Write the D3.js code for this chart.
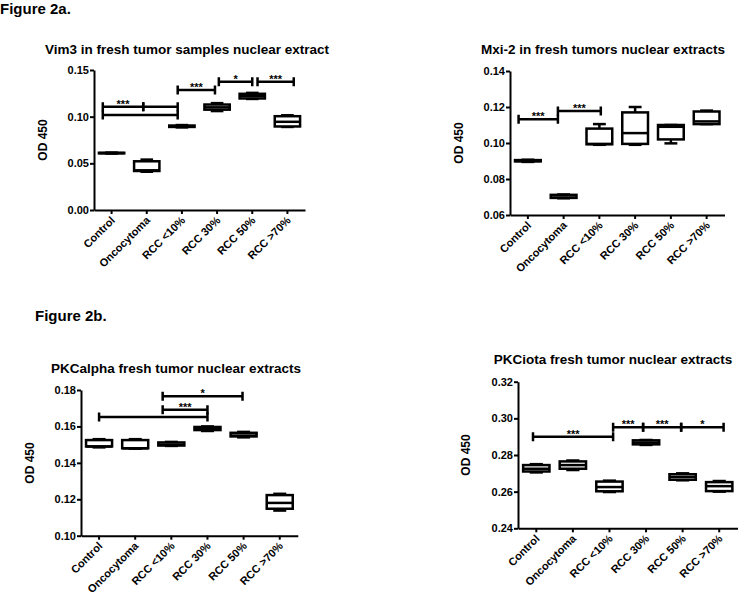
<!DOCTYPE html>
<html><head><meta charset="utf-8">
<script src="https://cdn.jsdelivr.net/npm/d3@7"></script>
<style>
body{margin:0;background:#fff}
svg{display:block}
text{font-family:"Liberation Sans",Arial,Helvetica,sans-serif;font-weight:bold;fill:#000}
</style>
</head><body>
<svg width="739" height="596"></svg>
<script>
// ---------- DATA ----------
const categories = ["Control", "Oncocytoma", "RCC <10%", "RCC 30%", "RCC 50%", "RCC >70%"];

// box stats per category: [min, q1, median, q3, max]
const vim3Boxes = [
  [0.0605, 0.0607, 0.0610, 0.0613, 0.0615],
  [0.0410, 0.0418, 0.0425, 0.0522, 0.0540],
  [0.0885, 0.0890, 0.0895, 0.0905, 0.0910],
  [0.1060, 0.1075, 0.1100, 0.1130, 0.1145],
  [0.1190, 0.1195, 0.1220, 0.1245, 0.1255],
  [0.0890, 0.0895, 0.0945, 0.1005, 0.1015]
];
const mxi2Boxes = [
  [0.0895, 0.0898, 0.0900, 0.0905, 0.0907],
  [0.0693, 0.0695, 0.0697, 0.0712, 0.0714],
  [0.0990, 0.0993, 0.0995, 0.1080, 0.1105],
  [0.0990, 0.0995, 0.1055, 0.1170, 0.1200],
  [0.0998, 0.1020, 0.1090, 0.1100, 0.1100],
  [0.1105, 0.1105, 0.1120, 0.1175, 0.1180]
];
const pkcAlphaBoxes = [
  [0.1485, 0.1490, 0.1490, 0.1525, 0.1530],
  [0.1478, 0.1480, 0.1480, 0.1525, 0.1530],
  [0.1493, 0.1495, 0.1500, 0.1512, 0.1515],
  [0.1575, 0.1580, 0.1585, 0.1597, 0.1600],
  [0.1540, 0.1545, 0.1550, 0.1565, 0.1570],
  [0.1138, 0.1148, 0.1180, 0.1223, 0.1230]
];
const pkcIotaBoxes = [
  [0.2705, 0.2710, 0.2725, 0.2745, 0.2750],
  [0.2718, 0.2725, 0.2745, 0.2765, 0.2770],
  [0.2598, 0.2602, 0.2625, 0.2655, 0.2660],
  [0.2855, 0.2858, 0.2868, 0.2880, 0.2882],
  [0.2662, 0.2665, 0.2680, 0.2695, 0.2700],
  [0.2600, 0.2603, 0.2630, 0.2652, 0.2658]
];

// significance brackets: [from (category position), to (category position), y value, label]
const vim3Brackets = [
  [-0.25, 1.88, 0.1018, ""],
  [-0.25, 0.90, 0.1107, "***"],
  [0.90, 1.88, 0.1107, ""],
  [1.88, 2.94, 0.1286, "***"],
  [3.05, 4.00, 0.1375, "*"],
  [4.15, 5.18, 0.1375, "***"]
];
const mxi2Brackets = [
  [-0.26, 0.84, 0.1132, "***"],
  [0.84, 2.04, 0.1178, "***"]
];
const pkcAlphaBrackets = [
  [0.00, 3.00, 0.1652, ""],
  [1.76, 3.00, 0.1692, "***"],
  [1.76, 3.97, 0.1765, "*"]
];
const pkcIotaBrackets = [
  [-0.09, 2.10, 0.2900, "***"],
  [2.10, 2.92, 0.2951, "***"],
  [2.92, 3.96, 0.2951, "***"],
  [3.96, 5.12, 0.2951, "*"]
];

const vim3Ticks = [0.00, 0.05, 0.10, 0.15];
const mxi2Ticks = [0.06, 0.08, 0.10, 0.12, 0.14];
const pkcAlphaTicks = [0.10, 0.12, 0.14, 0.16, 0.18];
const pkcIotaTicks = [0.24, 0.26, 0.28, 0.30, 0.32];

const titles = [
  "Vim3 in fresh tumor samples nuclear extract",
  "Mxi-2 in fresh tumors nuclear extracts",
  "PKCalpha fresh tumor nuclear extracts",
  "PKCiota fresh tumor nuclear extracts"
];
const figureLabels = ["Figure 2a.", "Figure 2b."];
const yLabel = "OD 450";

// ---------- LAYOUT ----------
const panels = [
  {title: titles[0], boxes: vim3Boxes, brackets: vim3Brackets, ticks: vim3Ticks,
   left: 94, right: 305, top: 70, bottom: 210, tx: 187, ty: 54, lx: 43, ly: 140},
  {title: titles[1], boxes: mxi2Boxes, brackets: mxi2Brackets, ticks: mxi2Ticks,
   left: 510, right: 724.5, top: 71, bottom: 215, tx: 603, ty: 54, lx: 459, ly: 143},
  {title: titles[2], boxes: pkcAlphaBoxes, brackets: pkcAlphaBrackets, ticks: pkcAlphaTicks,
   left: 81, right: 297.8, top: 390, bottom: 535.7, tx: 176, ty: 373, lx: 30, ly: 463},
  {title: titles[3], boxes: pkcIotaBoxes, brackets: pkcIotaBrackets, ticks: pkcIotaTicks,
   left: 518, right: 737.5, top: 381.7, bottom: 528.3, tx: 613, ty: 364, lx: 466, ly: 455}
];

const svg = d3.select("svg");

svg.append("text").attr("x", 0).attr("y", 14).style("font-size", "15px").text(figureLabels[0]);
svg.append("text").attr("x", 35).attr("y", 321).style("font-size", "15px").text(figureLabels[1]);

panels.forEach(p => {
  const g = svg.append("g");
  const x = d3.scaleBand().domain(categories).range([p.left, p.right]).padding(0);
  const bw = x.bandwidth();
  const cx = c => x(c) + bw / 2;
  const xi = d3.scaleLinear().domain([0, 1]).range([cx(categories[0]), cx(categories[1])]);
  const y = d3.scaleLinear().domain([p.ticks[0], p.ticks[p.ticks.length - 1]]).range([p.bottom, p.top]);

  // title
  g.append("text").attr("x", p.tx).attr("y", p.ty).attr("text-anchor", "middle")
    .style("font-size", "13.5px").text(p.title);

  // y label
  g.append("text").attr("transform", `translate(${p.lx},${p.ly}) rotate(-90)`)
    .attr("text-anchor", "middle").attr("dominant-baseline", "central")
    .style("font-size", "12px").text(yLabel);

  // y axis
  const ya = g.append("g").attr("transform", `translate(${p.left},0)`)
    .call(d3.axisLeft(y).tickValues(p.ticks).tickFormat(d3.format(".2f")).tickSize(4).tickSizeOuter(0).tickPadding(1));
  ya.selectAll("path,line").attr("stroke", "#000").attr("stroke-width", 2);
  ya.selectAll("text").style("font-size", "11px").style("font-family", null).attr("font-family", null);

  // x axis
  const xa = g.append("g").attr("transform", `translate(0,${p.bottom})`)
    .call(d3.axisBottom(x).tickSize(4).tickSizeOuter(0).tickFormat(""));
  xa.selectAll("path,line").attr("stroke", "#000").attr("stroke-width", 2);

  // x labels
  g.selectAll("text.xl").data(categories).enter().append("text").attr("class", "xl")
    .attr("transform", d => `translate(${cx(d) + 4},${p.bottom + 11}) rotate(-45)`)
    .attr("text-anchor", "end").style("font-size", "11px").text(d => d);

  // boxes
  const boxW = bw * 0.72;
  const capW = boxW * 0.5;
  const bg = g.selectAll("g.box").data(p.boxes).enter().append("g").attr("class", "box");
  bg.each(function(d, i) {
    const s = d3.select(this);
    const c = cx(categories[i]);
    const [mn, q1, md, q3, mx] = d;
    s.append("line").attr("x1", c).attr("x2", c).attr("y1", y(mx)).attr("y2", y(q3));
    s.append("line").attr("x1", c).attr("x2", c).attr("y1", y(q1)).attr("y2", y(mn));
    s.append("line").attr("x1", c - capW / 2).attr("x2", c + capW / 2).attr("y1", y(mx)).attr("y2", y(mx));
    s.append("line").attr("x1", c - capW / 2).attr("x2", c + capW / 2).attr("y1", y(mn)).attr("y2", y(mn));
    s.append("rect").attr("x", c - boxW / 2).attr("width", boxW)
      .attr("y", y(q3)).attr("height", Math.max(0.1, y(q1) - y(q3))).attr("fill", "#fff");
    s.append("line").attr("x1", c - boxW / 2).attr("x2", c + boxW / 2).attr("y1", y(md)).attr("y2", y(md));
    s.selectAll("line,rect").attr("stroke", "#000").attr("stroke-width", 2.5);
  });

  // brackets
  const capH = 4.5;
  p.brackets.forEach(([a, b, v, lab]) => {
    const x1 = xi(a), x2 = xi(b), yy = y(v);
    const path = d3.path();
    path.moveTo(x1, yy); path.lineTo(x2, yy);
    path.moveTo(x1, yy - capH); path.lineTo(x1, yy + capH);
    path.moveTo(x2, yy - capH); path.lineTo(x2, yy + capH);
    g.append("path").attr("d", path.toString()).attr("fill", "none")
      .attr("stroke", "#000").attr("stroke-width", 2.5);
    if (lab) {
      g.append("text").attr("x", (x1 + x2) / 2).attr("y", yy + 1).attr("text-anchor", "middle")
        .style("font-size", "11px").text(lab);
    }
  });
});
</script>
</body></html>
